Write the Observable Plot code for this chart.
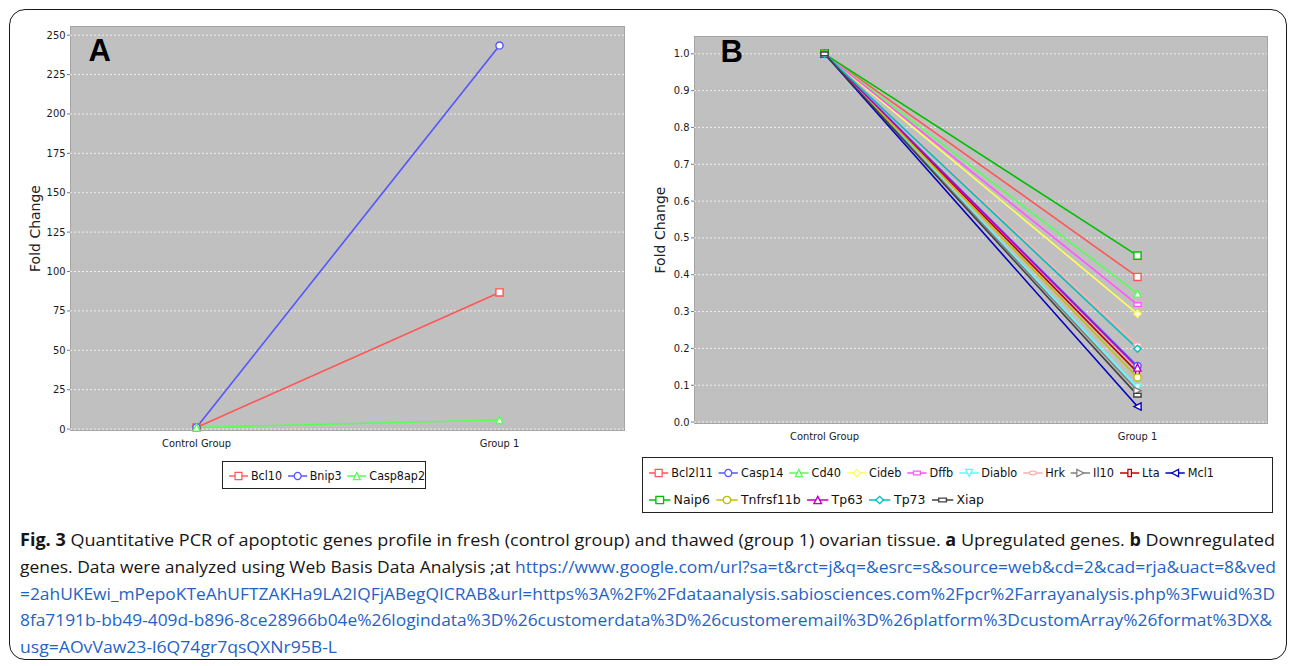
<!DOCTYPE html>
<html><head><meta charset="utf-8">
<script src="https://cdn.jsdelivr.net/npm/d3@7"></script>
<script src="https://cdn.jsdelivr.net/npm/@observablehq/plot@0.6"></script>
<style>
body{margin:0;background:#fff;}
#page{position:relative;width:1292px;height:666px;overflow:hidden;font-family:"DejaVu Sans Condensed","DejaVu Sans",sans-serif;}
#border{position:absolute;left:9px;top:9px;width:1276px;height:649px;border:1.5px solid #1a1a1a;border-radius:16px;}
#chartA{position:absolute;left:0;top:0;}
#chartB{position:absolute;left:640px;top:0;}
.legend{position:absolute;border:1px solid #222;background:#fff;font-size:13px;color:#111;box-sizing:border-box;padding:0 0 0 5px;overflow:hidden;}
.legrow{display:flex;align-items:center;white-space:nowrap;height:27px;width:max-content;transform-origin:0 50%;}
.item{display:flex;align-items:center;margin-right:5px;}
.item svg{margin-right:2px;}
#caption{position:absolute;left:20px;top:527px;font-family:"Open Sans",sans-serif;font-size:17px;line-height:26.8px;color:#161616;}
.cl{white-space:nowrap;transform-origin:0 0;width:max-content;}
.link{color:#1f63c6;}
</style></head>
<body>
<div id="page">
  <div id="border"></div>
  <div id="chartA"></div>
  <div id="chartB"></div>
  <div id="legendA" class="legend" style="left:222px;top:461px;width:204px;height:28px;"></div>
  <div id="legendB" class="legend" style="left:642px;top:457px;width:631px;height:56px;padding-top:1px;"></div>
  <div id="caption"></div>
</div>
<script>
// ---------- data ----------
const groups = ["Control Group", "Group 1"];

const upGenes = ["Bcl10", "Bnip3", "Casp8ap2"];
const upControl = [1, 1, 1];
const upGroup1 = [86.7, 243.4, 5.8];

const downGenes = ["Bcl2l11", "Casp14", "Cd40", "Cideb", "Dffb", "Diablo", "Hrk", "Il10", "Lta", "Mcl1",
                   "Naip6", "Tnfrsf11b", "Tp63", "Tp73", "Xiap"];
const downControl = [1, 1, 1, 1, 1, 1, 1, 1, 1, 1, 1, 1, 1, 1, 1];
const downGroup1 = [0.394, 0.152, 0.349, 0.294, 0.319, 0.094, 0.21, 0.085, 0.135, 0.042,
                    0.452, 0.121, 0.148, 0.199, 0.073];

const ticksA = [0, 25, 50, 75, 100, 125, 150, 175, 200, 225, 250];
const ticksB = [0, 0.1, 0.2, 0.3, 0.4, 0.5, 0.6, 0.7, 0.8, 0.9, 1.0];

const palette = ["#FF5555", "#5555FF", "#55FF55", "#FFFF55", "#FF55FF", "#55FFFF", "#FFAFAF", "#808080",
                 "#C00000", "#0000C0", "#00C000", "#C0C000", "#C000C0", "#00C0C0", "#404040"];
const shapeOrder = ["square", "circle", "triUp", "diamond", "hrect", "triDown", "hellipse", "triRight", "vrect", "triLeft"];

// ---------- symbols ----------
const R = s => Math.sqrt(s / Math.PI);
function poly(c, pts){ c.moveTo(pts[0][0], pts[0][1]); for (let i = 1; i < pts.length; i++) c.lineTo(pts[i][0], pts[i][1]); c.closePath(); }
const symbols = {
  square:   {draw(c, s){ const r = R(s); c.rect(-r, -r, 2*r, 2*r); }},
  circle:   {draw(c, s){ const r = R(s); c.moveTo(r, 0); c.arc(0, 0, r, 0, 2*Math.PI); }},
  triUp:    {draw(c, s){ const r = R(s); poly(c, [[0,-r],[r,r],[-r,r]]); }},
  diamond:  {draw(c, s){ const r = R(s); poly(c, [[0,-r],[r,0],[0,r],[-r,0]]); }},
  hrect:    {draw(c, s){ const r = R(s); c.rect(-r, -r/2, 2*r, r); }},
  triDown:  {draw(c, s){ const r = R(s); poly(c, [[0,r],[r,-r],[-r,-r]]); }},
  hellipse: {draw(c, s){ const a = R(s), b = a/2, k = 0.5523;
              c.moveTo(a, 0);
              c.bezierCurveTo(a, b*k, a*k, b, 0, b);
              c.bezierCurveTo(-a*k, b, -a, b*k, -a, 0);
              c.bezierCurveTo(-a, -b*k, -a*k, -b, 0, -b);
              c.bezierCurveTo(a*k, -b, a, -b*k, a, 0); c.closePath(); }},
  triRight: {draw(c, s){ const r = R(s); poly(c, [[r,0],[-r,-r],[-r,r]]); }},
  vrect:    {draw(c, s){ const r = R(s); c.rect(-r/2, -r, r, 2*r); }},
  triLeft:  {draw(c, s){ const r = R(s); poly(c, [[-r,0],[r,-r],[r,r]]); }}
};
const symFor = i => symbols[shapeOrder[i % shapeOrder.length]];

function buildData(genes, ctrl, g1){
  return genes.flatMap((g, i) => [
    {gene: g, group: groups[0], value: ctrl[i]},
    {gene: g, group: groups[1], value: g1[i]}
  ]);
}

function panel({genes, data, ticks, yDomain, fmt, width, height, margins, letter, letterDx, letterDy, labelDx}){
  const colors = genes.map((g, i) => palette[i % palette.length]);
  return Plot.plot({
    width, height,
    marginLeft: margins[0], marginRight: margins[1], marginTop: margins[2], marginBottom: margins[3],
    style: {fontFamily: "'DejaVu Sans Condensed', 'DejaVu Sans', sans-serif", fontSize: "11px", background: "transparent", color: "#222", overflow: "visible"},
    x: {type: "point", domain: groups, padding: 0.414, align: 0.5, label: null},
    y: {domain: yDomain, label: null},
    color: {domain: genes, range: colors},
    marks: [
      Plot.frame({fill: "#c0c0c0", stroke: "#a4a4a4"}),
      Plot.gridY(ticks, {stroke: "#f4f4f4", strokeOpacity: 0.9, strokeDasharray: "2,2", strokeWidth: 1}),
      Plot.axisY(ticks, {tickSize: 3, tickPadding: 2, tickFormat: fmt, label: null, stroke: "#777", fill: "#1a1a1a"}),
      Plot.axisX({tickSize: 0, tickPadding: 9, label: null, fill: "#1a1a1a"}),
      Plot.text(["Fold Change"], {frameAnchor: "left", rotate: -90, textAnchor: "middle", lineAnchor: "middle", dx: labelDx, fontSize: 14, fontFamily: "'DejaVu Sans', sans-serif", fill: "#222"}),
      Plot.line(data, {x: "group", y: "value", z: "gene", stroke: "gene", strokeWidth: 1.6}),
      ...genes.map((g, i) => Plot.dot(data.filter(d => d.gene === g), {
        x: "group", y: "value", symbol: symFor(i), r: 3.6, fill: "white", stroke: colors[i], strokeWidth: 1.4
      })),
      Plot.text([letter], {frameAnchor: "top-left", dx: letterDx, dy: letterDy, fontSize: 31, fontWeight: "bold", fontFamily: "'Liberation Sans', Arial, sans-serif", fill: "#000"})
    ]
  });
}

const dataA = buildData(upGenes, upControl, upGroup1);
const dataB = buildData(downGenes, downControl, downGroup1);

document.getElementById("chartA").appendChild(panel({
  genes: upGenes, data: dataA, ticks: ticksA, yDomain: [-0.9, 255.5], fmt: d3.format("d"),
  width: 640, height: 460, margins: [70, 16, 26, 30], letter: "A", letterDx: 18, letterDy: 12, labelDx: -35
}));
document.getElementById("chartB").appendChild(panel({
  genes: downGenes, data: dataB, ticks: ticksB, yDomain: [-0.004, 1.047], fmt: d3.format(".1f"),
  width: 652, height: 460, margins: [54, 25, 36, 37], letter: "B", letterDx: 26, letterDy: 3, labelDx: -34
}));

// ---------- legends ----------
function swatch(i){
  const p = d3.path(); symFor(i).draw(p, 3.6 * 3.6 * Math.PI);
  const col = palette[i % palette.length];
  return `<svg width="22" height="12" viewBox="-11 -6 22 12"><line x1="-10" x2="10" y1="0" y2="0" stroke="${col}" stroke-width="1.4"/>` +
         `<path d="${p}" fill="white" stroke="${col}" stroke-width="1.3"/></svg>`;
}
function legend(el, genes, rows){
  el.innerHTML = rows.map(([a, b]) =>
    `<div class="legrow">` + genes.slice(a, b).map((g, k) =>
      `<span class="item">${swatch(a + k)}<span>${g}</span></span>`).join("") + `</div>`).join("");
  el.querySelectorAll(".legrow").forEach((row, k) => {
    const target = rows[k][2];
    const w = row.getBoundingClientRect().width - 5;
    row.style.transform = `scaleX(${target / w})`;
  });
}
legend(document.getElementById("legendA"), upGenes, [[0, 3, 197]]);
legend(document.getElementById("legendB"), downGenes, [[0, 10, 566], [10, 15, 336]]);

// ---------- caption ----------
const captionLines = [
  {html: `<b>Fig. 3</b> Quantitative PCR of apoptotic genes profile in fresh (control group) and thawed (group 1) ovarian tissue. <b>a</b> Upregulated genes. <b>b</b> Downregulated`, w: 1255},
  {html: `genes. Data were analyzed using Web Basis Data Analysis ;at <span class="link">https://www.google.com/url?sa=t&amp;rct=j&amp;q=&amp;esrc=s&amp;source=web&amp;cd=2&amp;cad=rja&amp;uact=8&amp;ved</span>`, w: 1256},
  {html: `<span class="link">=2ahUKEwi_mPepoKTeAhUFTZAKHa9LA2IQFjABegQICRAB&amp;url=https%3A%2F%2Fdataanalysis.sabiosciences.com%2Fpcr%2Farrayanalysis.php%3Fwuid%3D</span>`, w: 1255},
  {html: `<span class="link">8fa7191b-bb49-409d-b896-8ce28966b04e%26logindata%3D%26customerdata%3D%26customeremail%3D%26platform%3DcustomArray%26format%3DX&amp;</span>`, w: 1252},
  {html: `<span class="link">usg=AOvVaw23-l6Q74gr7qsQXNr95B-L</span>`, w: 317}
];
const cap = document.getElementById("caption");
captionLines.forEach(l => {
  const d = document.createElement("div"); d.className = "cl"; d.innerHTML = l.html; cap.appendChild(d);
  const w = d.getBoundingClientRect().width;
  d.style.transform = `scaleX(${l.w / w})`;
});
</script>
</body></html>
